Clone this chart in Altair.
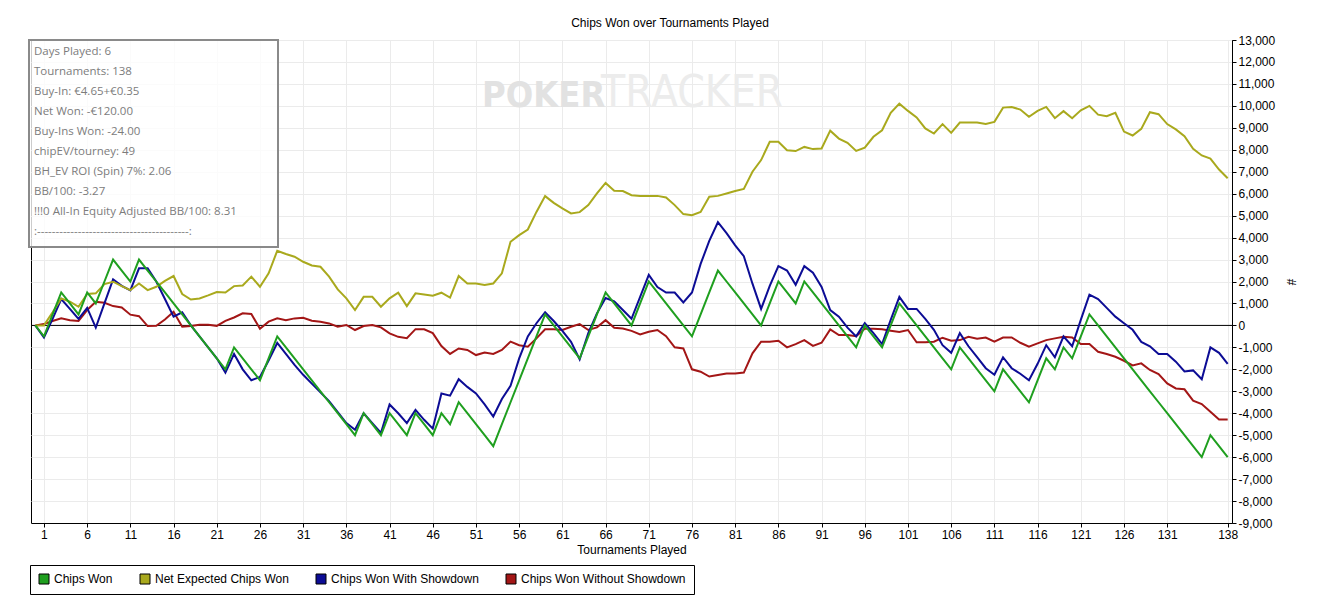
import altair as alt
import pandas as pd

# ---------------- data ----------------
SERIES = ["Chips Won", "Net Expected Chips Won",
          "Chips Won With Showdown", "Chips Won Without Showdown"]
COLORS = ["#1f9f1f", "#a9a91d", "#0c0c95", "#a31616"]

tournaments = list(range(0, 139))

chips_won = [
    0, -500, 500, 1500, 1000, 500, 1500, 1000, 2000, 3000,
    2500, 2000, 3000, 2500, 2000, 1500, 1000, 500, 0, -500,
    -1000, -1500, -2000, -1000, -1500, -2000, -2500, -1500, -500, -1000,
    -1500, -2000, -2500, -3000, -3500, -4000, -4500, -5000, -4000, -4500,
    -5000, -4000, -4500, -5000, -4000, -4500, -5000, -4000, -4500, -3500,
    -4000, -4500, -5000, -5500, -4500, -3500, -2500, -1500, -500, 500,
    0, -500, -1000, -1500, -500, 500, 1500, 1000, 500, 0,
    1000, 2000, 1500, 1000, 500, 0, -500, 500, 1500, 2500,
    2000, 1500, 1000, 500, 0, 1000, 2000, 1500, 1000, 2000,
    1500, 1000, 500, 0, -500, -1000, 0, -500, -1000, 0,
    1000, 500, 0, -500, -1000, -1500, -2000, -1000, -1500, -2000,
    -2500, -3000, -2000, -2500, -3000, -3500, -2500, -1500, -2000, -1000,
    -1500, -500, 500, 0, -500, -1000, -1500, -2000, -2500, -3000,
    -3500, -4000, -4500, -5000, -5500, -6000, -5000, -5500, -6000,
]

net_expected = [
    0, 0, 600, 1230, 1080, 850, 1430, 1460, 1880, 1990,
    1790, 1610, 1910, 1610, 1760, 2030, 2250, 1430, 1180, 1230,
    1370, 1520, 1500, 1790, 1820, 2220, 1760, 2370, 3400, 3250,
    3130, 2900, 2730, 2670, 2220, 1640, 1230, 700, 1300, 1300,
    850, 1230, 1490, 880, 1460, 1410, 1350, 1490, 1270, 2250,
    1910, 1910, 1840, 1910, 2370, 3810, 4110, 4370, 5170, 5890,
    5580, 5330, 5100, 5160, 5480, 6010, 6490, 6130, 6120, 5930,
    5900, 5900, 5900, 5830, 5480, 5070, 5020, 5170, 5860, 5900,
    6010, 6120, 6220, 7000, 7530, 8360, 8360, 7980, 7940, 8130,
    8030, 8060, 8870, 8510, 8320, 7950, 8100, 8590, 8890, 9680,
    10100, 9770, 9470, 8970, 8740, 9170, 8770, 9240, 9240, 9240,
    9170, 9270, 9920, 9950, 9830, 9500, 9770, 9950, 9440, 9760,
    9440, 9800, 10000, 9600, 9530, 9680, 8830, 8650, 8950, 9710,
    9620, 9170, 8930, 8620, 8040, 7740, 7600, 7100, 6700,
]

with_showdown = [
    0, -550, 300, 1200, 750, 300, 800, -100, 1000, 2100,
    1800, 1600, 2600, 2600, 2000, 1200, 400, 600, 0, -500,
    -1000, -1500, -2150, -1300, -2000, -2500, -2350, -1600, -800, -1300,
    -1800, -2250, -2650, -3050, -3450, -3950, -4450, -4750, -4000, -4450,
    -4900, -3600, -4000, -4450, -3850, -4300, -4700, -3100, -3200, -2450,
    -2800, -3100, -3600, -4150, -3350, -2750, -1500, -500, 100, 600,
    200, -250, -750, -1550, -350, 550, 1250, 1100, 700, 300,
    1300, 2300, 1750, 1500, 1500, 1050, 1500, 2800, 3850, 4700,
    4200, 3650, 3150, 1900, 750, 1800, 2700, 2500, 1850, 2700,
    2400, 1750, 700, 400, -100, -500, 100, -350, -850, 250,
    1300, 750, 750, 300, -200, -900, -1250, -350, -950, -1450,
    -1950, -2250, -1450, -1950, -2200, -2500, -1750, -900, -1450, -500,
    -950, 250, 1400, 1200, 800, 400, 100, -200, -750, -950,
    -1300, -1300, -1650, -2100, -2050, -2450, -1000, -1250, -1750,
]

without_showdown = [
    0, 60, 200, 320, 240, 200, 700, 1080, 1030, 880,
    820, 490, 420, -30, -20, 270, 620, -60, -30, 30,
    30, -20, 210, 360, 550, 520, -150, 170, 320, 240,
    320, 350, 210, 170, 90, -60, 20, -210, -30, 20,
    -90, -360, -520, -580, -170, -180, -350, -940, -1300, -1050,
    -1120, -1350, -1240, -1300, -1120, -740, -900, -970, -590, -180,
    -180, -210, -60, 60, -210, -90, 240, -110, -140, -250,
    -410, -290, -210, -490, -1000, -1050, -2000, -2110, -2330, -2260,
    -2190, -2190, -2150, -1270, -740, -740, -700, -1000, -850, -670,
    -930, -790, -180, -440, -440, -490, -150, -150, -180, -240,
    -300, -210, -770, -770, -740, -560, -700, -670, -520, -610,
    -550, -740, -550, -550, -790, -970, -820, -670, -590, -520,
    -550, -850, -850, -1200, -1300, -1430, -1610, -1820, -1730, -2030,
    -2220, -2640, -2870, -2910, -3430, -3580, -3930, -4280, -4280,
]

x_ticks = list(range(1, 132, 5)) + [138]
y_ticks = list(range(-9000, 13001, 1000))
zero_line = [0]

chart_title = "Chips Won over Tournaments Played"
x_title = "Tournaments Played"
y_title = "#"

info_lines = [
    "Days Played: 6",
    "Tournaments: 138",
    "Buy-In: €4.65+€0.35",
    "Net Won: -€120.00",
    "Buy-Ins Won: -24.00",
    "chipEV/tourney: 49",
    "BH_EV ROI (Spin) 7%: 2.06",
    "BB/100: -3.27",
    "!!!0 All-In Equity Adjusted BB/100: 8.31",
    ":" + "-" * 41 + ":",
]

# ---------------- build tables ----------------
rows = []
for name, col, vals in zip(SERIES, COLORS,
                           [chips_won, net_expected, with_showdown, without_showdown]):
    for t, v in zip(tournaments, vals):
        rows.append({"t": t, "value": v, "series": name, "col": col})
df = pd.DataFrame(rows)

FONT = "Liberation Sans, Arial, sans-serif"

x_enc = alt.X(
    "t:Q",
    scale=alt.Scale(domain=[-0.5, 138.5], nice=False, zero=False),
    axis=alt.Axis(
        values=x_ticks, title=x_title, grid=True, gridColor="#ebebeb",
        tickSize=4, tickColor="black", domainColor="black",
        labelFlush=False, labelOverlap=False, labelPadding=2,
        labelFont=FONT, labelFontSize=12, labelColor="black",
        titleFont=FONT, titleFontSize=12, titleFontWeight="normal",
        titleColor="black", titlePadding=4,
    ),
)
y_enc = alt.Y(
    "value:Q",
    scale=alt.Scale(domain=[-9000, 13000], nice=False, zero=False),
    axis=alt.Axis(
        orient="right", values=y_ticks, format=",d", title=y_title,
        labelExpr="replace(datum.label, '\u2212', '-')",
        grid=True, gridColor="#ebebeb", tickSize=4, tickColor="black",
        domainColor="black", labelPadding=2, labelOverlap=False,
        labelFont=FONT, labelFontSize=12, labelColor="black",
        titleFont=FONT, titleFontSize=12, titleFontWeight="normal",
        titleColor="black", titlePadding=9,
    ),
)

one = pd.DataFrame([{"k": 0}])

watermark_a = alt.Chart(one).mark_text(
    align="left", baseline="alphabetic", fontSize=36, fontWeight="bold",
    font="Liberation Sans Narrow, DejaVu Sans Condensed, Roboto, sans-serif",
    color="#e2e2e2",
).encode(x=alt.value(451), y=alt.value(67), text=alt.value("POKER"))

watermark_b = alt.Chart(one).mark_text(
    align="left", baseline="alphabetic", fontSize=44, fontWeight="normal",
    font="Liberation Sans Narrow, DejaVu Sans Condensed, Roboto, sans-serif",
    color="#ececec",
).encode(x=alt.value(570), y=alt.value(67), text=alt.value("TRACKER"))

zero_rule = alt.Chart(pd.DataFrame({"value": zero_line})).mark_rule(
    color="black", strokeWidth=1
).encode(y=y_enc)


def series_layer(name):
    return alt.Chart(df).transform_filter(
        alt.datum.series == name
    ).mark_line(strokeWidth=2, strokeJoin="miter", clip=True).encode(
        x=x_enc, y=y_enc,
        stroke=alt.Stroke("col:N", scale=None),
        detail="series:N",
    )


legend_layer = alt.Chart(pd.DataFrame({"series": SERIES})).mark_square(
    opacity=0, size=100, stroke="black", strokeWidth=1
).encode(
    color=alt.Color(
        "series:N", scale=alt.Scale(domain=SERIES, range=COLORS),
        legend=alt.Legend(
            title=None, orient="none", legendX=-1, legendY=525,
            direction="horizontal", symbolType="square", symbolSize=100,
            symbolOpacity=1, symbolStrokeColor="black", symbolStrokeWidth=1,
            labelFont=FONT, labelFontSize=12, labelColor="black",
            labelOffset=4, labelLimit=400, columnPadding=25, padding=8,
            strokeColor="black", fillColor="white",
        ),
    )
)

info_box = alt.Chart(one).mark_rect(
    fill="white", fillOpacity=0.8, stroke="#8a8a8a", strokeWidth=2
).encode(
    x=alt.value(-2), x2=alt.value(247), y=alt.value(0), y2=alt.value(207)
)

info_text = alt.Chart(one).mark_text(
    align="left", baseline="top", lineHeight=20, fontSize=11.5,
    font="Open Sans, Noto Sans, sans-serif", color="#7c7c7c",
).encode(x=alt.value(3), y=alt.value(6), text=alt.value(info_lines))

title_text = alt.Chart(one).mark_text(
    align="center", baseline="middle", fontSize=12, font=FONT, color="black"
).encode(x=alt.value(639), y=alt.value(-17), text=alt.value(chart_title))

chart = alt.layer(
    watermark_a, watermark_b, zero_rule,
    series_layer(SERIES[3]), series_layer(SERIES[2]),
    series_layer(SERIES[1]), series_layer(SERIES[0]),
    legend_layer, info_box, info_text, title_text,
).properties(
    width=1201, height=483,
    padding={"left": 23, "top": 32, "right": 85, "bottom": 75},
    autosize=alt.AutoSizeParams(type="none"),
    background="white",
).configure_view(stroke="black", strokeWidth=1, fill="white")

chart.save("out.html", embed_options={"renderer": "svg", "actions": False})
